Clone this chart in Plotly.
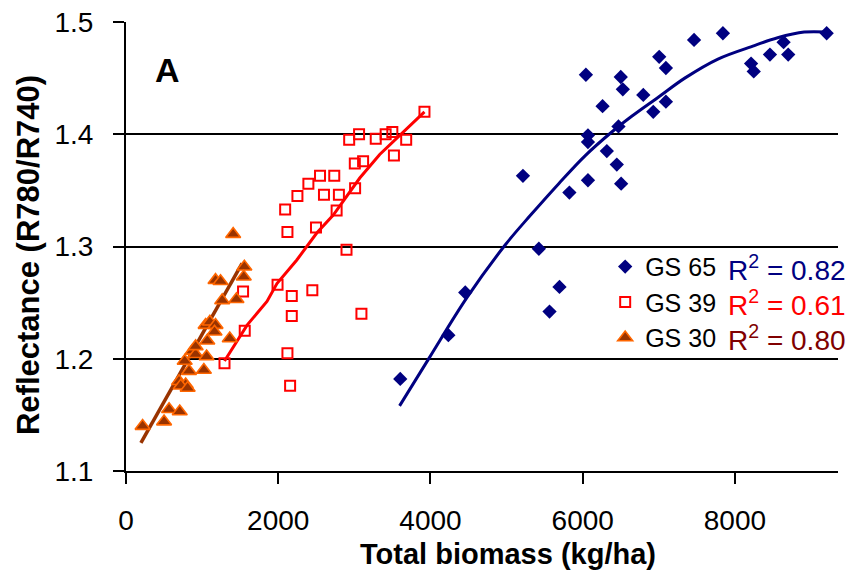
import plotly.graph_objects as go

# ---- data ----
gs65_x = [6042, 6500, 6527, 6261, 6470, 6069, 6069, 6317, 6448, 6069, 6505, 5825, 5215,
          9205, 7842, 7463, 8639, 8700, 8460, 7005, 7093, 8212, 8247, 6796, 7093, 6927,
          5424, 5695, 5564, 4457, 4235, 3603]
gs65_y = [1.453, 1.451, 1.440, 1.425, 1.407, 1.399, 1.393, 1.385, 1.373, 1.359, 1.356, 1.348, 1.363,
          1.490, 1.490, 1.484, 1.482, 1.471, 1.471, 1.469, 1.459, 1.463, 1.456, 1.435, 1.429, 1.420,
          1.298, 1.264, 1.242, 1.259, 1.221, 1.182]

gs39_x = [3921, 2932, 3062, 3281, 3411, 3499, 3681, 3520, 3006, 3115, 2549, 2736, 2396, 2252,
          2601, 2797, 3010, 2091, 2767, 2121, 2496, 2897, 1991, 1538, 2178, 2448, 2178, 3093,
          1560, 2121, 1294, 2156]
gs39_y = [1.420, 1.395, 1.400, 1.396, 1.400, 1.402, 1.395, 1.381, 1.374, 1.376, 1.363, 1.363, 1.356, 1.345,
          1.346, 1.346, 1.352, 1.333, 1.332, 1.313, 1.317, 1.297, 1.266, 1.260, 1.256, 1.261, 1.238, 1.240,
          1.225, 1.205, 1.196, 1.176]

gs30_x = [1408, 1555, 1547, 1176, 1242, 1264, 1451, 1046, 1102, 1176, 1163, 1068, 1363, 872,
          915, 771, 1059, 1023, 828, 697, 784, 719, 566, 706, 500, 218, 915, 810]
gs30_y = [1.311, 1.282, 1.273, 1.270, 1.269, 1.252, 1.253, 1.230, 1.233, 1.230, 1.224, 1.216, 1.218, 1.207,
          1.204, 1.198, 1.202, 1.190, 1.189, 1.180, 1.177, 1.176, 1.155, 1.153, 1.144, 1.140, 1.211, 1.174]

# trend lines
gs65_fit_x = [3594, 3986, 4474, 4989, 5316, 5685, 6034, 6382, 6644, 6993, 7341, 7777, 8256, 8561, 8910, 9215]
gs65_fit_y = [1.158, 1.201, 1.254, 1.302, 1.328, 1.356, 1.381, 1.402, 1.416, 1.433, 1.450, 1.467, 1.479, 1.486, 1.491, 1.491]
gs39_fit_x = [1294, 1591, 1852, 1983, 2244, 2506, 2723, 3071, 3333, 3682, 3921]
gs39_fit_y = [1.198, 1.230, 1.251, 1.267, 1.288, 1.312, 1.328, 1.361, 1.382, 1.405, 1.420]
gs30_fit_x = [196, 860, 1525]
gs30_fit_y = [1.125, 1.205, 1.285]

series_names = ["GS 65", "GS 39", "GS 30"]
r2_labels = ["0.82", "0.61", "0.80"]
x_ticks = [0, 2000, 4000, 6000, 8000]
y_ticks = [1.1, 1.2, 1.3, 1.4, 1.5]

NAVY = "#000080"
RED = "#FF0000"
BROWN = "#993300"
ORANGE = "#FF6600"
MAROON = "#800000"
FONT = "Liberation Sans, Arial, sans-serif"

fig = go.Figure()

# trend lines first (behind markers)
fig.add_trace(go.Scatter(x=gs65_fit_x, y=gs65_fit_y, mode="lines", line_shape="spline",
                         line=dict(color=NAVY, width=3), showlegend=False, hoverinfo="skip"))
fig.add_trace(go.Scatter(x=gs39_fit_x, y=gs39_fit_y, mode="lines",
                         line=dict(color=RED, width=3), showlegend=False, hoverinfo="skip"))
fig.add_trace(go.Scatter(x=gs30_fit_x, y=gs30_fit_y, mode="lines",
                         line=dict(color=BROWN, width=3.5), showlegend=False, hoverinfo="skip"))

fig.add_trace(go.Scatter(x=gs65_x, y=gs65_y, mode="markers", name=series_names[0],
                         marker=dict(symbol="diamond", size=11, color=NAVY, line=dict(width=0))))
fig.add_trace(go.Scatter(x=gs39_x, y=gs39_y, mode="markers", name=series_names[1],
                         marker=dict(symbol="square-open", size=10, color=RED, line=dict(width=2, color=RED))))
fig.add_trace(go.Scatter(x=gs30_x, y=gs30_y, mode="markers", name=series_names[2],
                         marker=dict(symbol="triangle-up", size=13, color=BROWN, line=dict(width=1.6, color=ORANGE))))

# R^2 labels next to legend rows
r2_colors = [NAVY, RED, MAROON]
row_y = [1.281, 1.2497, 1.2185]
annotations = []
for lab, col, yy in zip(r2_labels, r2_colors, row_y):
    annotations.append(dict(text=f"R<sup>2</sup> = {lab}", x=0.843, y=yy, xref="paper", yref="y",
                            showarrow=False, xanchor="left", yanchor="middle",
                            font=dict(size=28, family=FONT, color=col)))

annotations += [
    dict(text="A", x=542, y=1.457, xref="x", yref="y", showarrow=False,
         font=dict(size=34, family=FONT, color="black", weight="bold")),
    dict(text="Total biomass (kg/ha)", x=0.536, y=-0.185, xref="paper", yref="paper",
         showarrow=False, xanchor="center", yanchor="middle",
         font=dict(size=29, family=FONT, color="black", weight="bold")),
    dict(text="Reflectance (R780/R740)", x=-0.137, y=0.482, xref="paper", yref="paper",
         showarrow=False, textangle=-90, xanchor="center", yanchor="middle",
         font=dict(size=31, family=FONT, color="black", weight="bold")),
]

fig.update_layout(
    width=850, height=577,
    margin=dict(l=126, r=12, t=22, b=106),
    paper_bgcolor="white", plot_bgcolor="white",
    font=dict(family=FONT, color="black", size=28),
    showlegend=True,
    legend=dict(x=0.673, xanchor="left", y=0.506, yanchor="top",
                bgcolor="rgba(255,255,255,0)", borderwidth=0,
                font=dict(size=25, family=FONT, color="black"),
                traceorder="normal", itemwidth=30),
    xaxis=dict(range=[0, 9354], tickvals=x_ticks, ticktext=[str(v) for v in x_ticks],
               showgrid=False, zeroline=False, showline=True, linecolor="black", linewidth=2,
               ticks="outside", ticklen=11, tickwidth=2, tickcolor="black", automargin=False,
               tickfont=dict(size=28, family=FONT), ticklabelstandoff=12),
    yaxis=dict(range=[1.1, 1.5], tickvals=y_ticks, ticktext=[f"{v:.1f}" for v in y_ticks],
               showgrid=True, gridcolor="black", gridwidth=2, zeroline=False,
               showline=True, linecolor="black", linewidth=2, automargin=False,
               ticks="outside", ticklen=11, tickwidth=2, tickcolor="black",
               tickfont=dict(size=28, family=FONT), ticklabelstandoff=14),
    annotations=annotations,
)

fig.write_html("out.html")
